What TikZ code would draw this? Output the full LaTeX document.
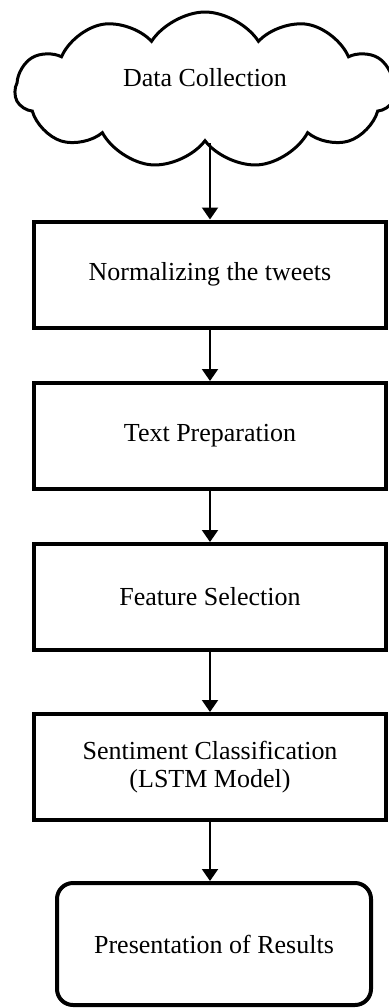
\documentclass[tikz,border=0pt]{standalone}
\usepackage{fontspec}
\setmainfont{Liberation Serif}
\usetikzlibrary{arrows.meta,shapes.symbols}

\begin{document}
\begin{tikzpicture}[x=0.5pt,y=-0.5pt,
    font=\fontsize{13}{14}\selectfont,
    stepbox/.style={draw,line width=2pt,minimum width=176pt,minimum height=53pt,align=center},
    resultbox/.style={draw,line width=2pt,rounded corners=8pt,minimum width=157pt,minimum height=61pt},
    datacloud/.style={draw,cloud,cloud puffs=11,cloud puff arc=115,cloud ignores aspect,
      line width=1.5pt,minimum width=190pt,minimum height=78pt,text height=9pt,text depth=12.4pt},
    flow/.style={-{Triangle[width=8pt,length=6pt]},line width=1pt}]
  \useasboundingbox (0,0) rectangle (388,1008);
  % pipeline stages
  \node[datacloud] (collect) at (205,90) {Data Collection};
  \node[stepbox] (normal) at (210,274.5) {Normalizing the tweets};
  \node[stepbox] (prep) at (210,436) {Text Preparation};
  \node[stepbox] (select) at (210,597) {Feature Selection};
  \node[stepbox] (classify) at (210,767) {Sentiment Classification\\(LSTM Model)};
  \node[resultbox] (present) at (214,944) {Presentation of Results};
  % arrows between stages
  \draw[flow] (collect.south -| normal.north) -- (normal.north);
  \draw[flow] (normal) -- (prep);
  \draw[flow] (prep) -- (select);
  \draw[flow] (select) -- (classify);
  \draw[flow] (classify.south) -- (classify.south |- present.north);
\end{tikzpicture}
\end{document}
